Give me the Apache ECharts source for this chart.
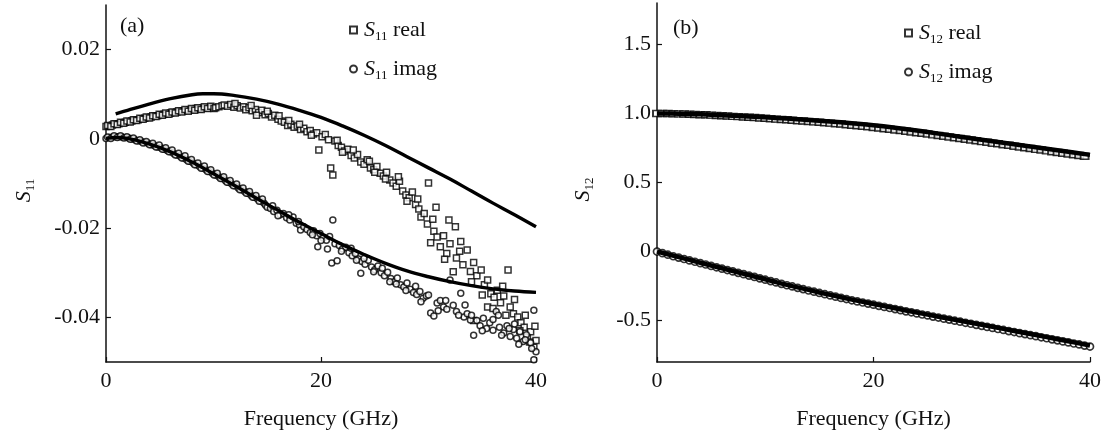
<!DOCTYPE html>
<html>
<head>
<meta charset="utf-8">
<script src="https://cdn.jsdelivr.net/npm/echarts@6/dist/echarts.min.js"></script>
<style>
  html, body { margin: 0; padding: 0; background: #fff; }
  #chart { width: 1104px; height: 437px; }
</style>
</head>
<body>
<div id="chart"></div>
<script>
// (a) S11 measured points, [GHz, value]
const s11Real = [
  [0,0.0028],[0.3,0.0029],[0.6,0.0031],[0.9,0.0033],[1.2,0.0034],[1.5,0.0036],[1.8,0.0037],[2.1,0.0039],
  [2.4,0.0040],[2.7,0.0042],[3.0,0.0043],[3.3,0.0045],[3.6,0.0046],[3.9,0.0048],[4.2,0.0049],[4.5,0.0051],
  [4.8,0.0052],[5.1,0.0054],[5.4,0.0055],[5.7,0.0056],[6.0,0.0058],[6.3,0.0059],[6.6,0.0060],[6.9,0.0062],
  [7.2,0.0063],[7.5,0.0064],[7.8,0.0065],[8.1,0.0066],[8.4,0.0068],[8.7,0.0067],[9.0,0.0069],[9.3,0.0070],
  [9.6,0.0069],[9.9,0.0071],
  [0.15,0.0030],[0.45,0.0028],[0.75,0.0034],[1.05,0.0032],[1.35,0.0037],[1.65,0.0035],[1.95,0.0040],[2.25,0.0038],
  [2.55,0.0043],[2.85,0.0041],[3.15,0.0046],[3.45,0.0044],[3.75,0.0049],[4.05,0.0047],[4.35,0.0052],[4.65,0.0050],
  [4.95,0.0055],[5.25,0.0053],[5.55,0.0058],[5.85,0.0055],[6.15,0.0060],[6.45,0.0058],[6.75,0.0063],[7.05,0.0060],
  [7.35,0.0066],[7.65,0.0062],[7.95,0.0068],[8.25,0.0064],[8.55,0.0070],[8.85,0.0066],[9.15,0.0072],[9.45,0.0068],
  [9.75,0.0073],[10.05,0.0068],
  [10.2,0.0070],[10.5,0.0072],[10.8,0.0074],[11.0,0.0076],[11.3,0.0073],[11.6,0.0077],[11.9,0.0071],[12.2,0.0074],
  [12.5,0.0069],[12.8,0.0072],[13.0,0.0065],[13.3,0.0070],[13.6,0.0063],[13.9,0.0066],[14.2,0.0059],[14.5,0.0064],
  [14.8,0.0054],[15.1,0.0057],[15.4,0.0049],[15.7,0.0053],[16.0,0.0044],[16.3,0.0040],[16.6,0.0037],[16.9,0.0030],
  [17.2,0.0033],[17.5,0.0026],[17.8,0.0029],[18.1,0.0021],[18.4,0.0024],[18.7,0.0016],[19.0,0.0019],[19.3,0.0011],
  [19.6,0.0014],[19.8,-0.0025],[20.1,0.0005],[20.4,0.0010],[20.7,-0.0002],[20.9,-0.0065],[21.1,-0.0081],[21.3,-0.0005],
  [21.6,-0.0015],[21.9,-0.0019],[22.2,-0.0027],[22.5,-0.0023],[22.8,-0.0037],[23.1,-0.0043],[23.4,-0.0035],[23.7,-0.0052],
  [24.0,-0.0057],[24.3,-0.0047],[24.6,-0.0065],[24.9,-0.0069],[25.2,-0.0062],[25.5,-0.0077],[25.8,-0.0083],[26.1,-0.0075],
  [26.4,-0.0092],[26.7,-0.0099],[27.0,-0.0106],[27.3,-0.0095],[27.6,-0.0117],[27.9,-0.0126],[28.2,-0.0132],[28.5,-0.0119],
  [28.8,-0.0147],[29.1,-0.0157],[29.3,-0.0175],[29.6,-0.0167],[29.9,-0.0191],[30.0,-0.0099],[30.2,-0.0233],[30.5,-0.0207],
  [30.7,-0.0153],[30.8,-0.0220],[31.1,-0.0242],[31.4,-0.0217],[31.7,-0.0257],[31.9,-0.0182],[32.0,-0.0235],[32.3,-0.0298],
  [32.5,-0.0197],[32.6,-0.0267],[32.9,-0.0252],[33.2,-0.0282],[33.6,-0.0249],[33.9,-0.0297],[34.2,-0.0407],[34.2,-0.0277],
  [34.5,-0.0307],[34.9,-0.0294],[35.2,-0.0327],[35.5,-0.0316],[35.5,-0.0377],[35.8,-0.0347],[36.1,-0.0355],[36.4,-0.0339],
  [36.7,-0.0367],[37.0,-0.0352],[37.4,-0.0294],[37.6,-0.0377],[37.9,-0.0392],[38.3,-0.0399],[38.6,-0.0412],[38.9,-0.0422],
  [39.2,-0.0444],[39.5,-0.0432],[39.8,-0.0467],[40.0,-0.0452],
  [12.0,0.0079],[13.5,0.0075],[14.0,0.0053],[15.0,0.0062],[16.1,0.0052],[17.0,0.0041],[18.0,0.0033],[19.1,0.0008],
  [21.5,-0.0003],[22.0,-0.0030],[23.0,-0.0025],[24.5,-0.0050],[25.0,-0.0075],[26.0,-0.0090],[27.2,-0.0085],[28.0,-0.0140],
  [29.0,-0.0135],[30.4,-0.0180],[31.5,-0.0270],[33.0,-0.0230],[34.0,-0.0320],[35.0,-0.0350],[36.0,-0.0380],[36.9,-0.0330],
  [37.2,-0.0395],[38.0,-0.0360],[38.5,-0.0430],[39.0,-0.0395],[39.4,-0.0455],[39.9,-0.0420]
];
const s11Imag = [
  [0,0.0001],[0.3,0.0003],[0.6,0.0004],[0.9,0.0005],[1.2,0.0005],[1.5,0.0004],[1.8,0.0003],[2.1,0.0002],
  [2.4,0.0000],[2.7,-0.0002],[3.0,-0.0004],[3.3,-0.0006],[3.6,-0.0008],[3.9,-0.0010],[4.2,-0.0013],[4.5,-0.0015],
  [4.8,-0.0018],[5.1,-0.0020],[5.4,-0.0023],[5.7,-0.0026],[6.0,-0.0029],[6.3,-0.0033],[6.6,-0.0036],[6.9,-0.0039],
  [7.2,-0.0043],[7.5,-0.0047],[7.8,-0.0050],[8.1,-0.0054],[8.4,-0.0058],[8.7,-0.0062],[9.0,-0.0065],[9.3,-0.0069],
  [9.6,-0.0073],[9.9,-0.0077],[10.2,-0.0081],[10.5,-0.0085],[10.8,-0.0089],[11.1,-0.0093],[11.4,-0.0097],[11.7,-0.0101],
  [12.0,-0.0105],[12.3,-0.0110],[12.6,-0.0114],[12.9,-0.0118],[13.2,-0.0122],[13.5,-0.0127],[13.8,-0.0131],[14.1,-0.0135],
  [14.4,-0.0139],[14.7,-0.0144],
  [0.15,0.0004],[0.45,0.0001],[0.75,0.0007],[1.05,0.0003],[1.35,0.0007],[1.65,0.0002],[1.95,0.0005],[2.25,-0.0001],
  [2.55,0.0002],[2.85,-0.0005],[3.15,-0.0002],[3.45,-0.0009],[3.75,-0.0006],[4.05,-0.0013],[4.35,-0.0010],[4.65,-0.0018],
  [4.95,-0.0014],[5.25,-0.0023],[5.55,-0.0020],[5.85,-0.0029],[6.15,-0.0025],[6.45,-0.0036],[6.75,-0.0032],[7.05,-0.0043],
  [7.35,-0.0038],[7.65,-0.0050],[7.95,-0.0046],[8.25,-0.0058],[8.55,-0.0054],[8.85,-0.0066],[9.15,-0.0061],[9.45,-0.0073],
  [9.75,-0.0069],[10.05,-0.0081],[10.35,-0.0077],[10.65,-0.0089],[10.95,-0.0085],[11.25,-0.0097],[11.55,-0.0093],[11.85,-0.0105],
  [12.15,-0.0101],[12.45,-0.0114],[12.75,-0.0110],[13.05,-0.0122],[13.35,-0.0118],[13.65,-0.0131],[13.95,-0.0127],[14.25,-0.0140],
  [14.55,-0.0135],[14.85,-0.0149],
  [15.0,-0.0153],[15.3,-0.0156],[15.6,-0.0163],[15.9,-0.0160],[16.2,-0.0170],[16.5,-0.0167],[16.8,-0.0177],[17.1,-0.0182],
  [17.4,-0.0175],[17.7,-0.0189],[18.0,-0.0193],[18.1,-0.0204],[18.4,-0.0197],[18.7,-0.0203],[19.0,-0.0210],[19.3,-0.0206],
  [19.6,-0.0217],[19.7,-0.0242],[19.9,-0.0212],[20.2,-0.0222],[20.5,-0.0227],[20.6,-0.0247],[20.8,-0.0219],[21.1,-0.0182],
  [21.0,-0.0278],[21.3,-0.0235],[21.5,-0.0273],[21.7,-0.0239],[22.0,-0.0247],[22.3,-0.0243],[22.6,-0.0255],[22.9,-0.0262],
  [23.2,-0.0257],[23.5,-0.0269],[23.7,-0.0301],[23.8,-0.0275],[24.1,-0.0281],[24.4,-0.0272],[24.7,-0.0287],[25.0,-0.0293],
  [25.3,-0.0285],[25.6,-0.0300],[25.9,-0.0307],[26.2,-0.0299],[26.5,-0.0313],[26.8,-0.0320],[27.1,-0.0312],[27.4,-0.0327],
  [27.7,-0.0332],[28.0,-0.0323],[28.3,-0.0337],[28.6,-0.0344],[28.9,-0.0349],[29.2,-0.0342],[29.5,-0.0357],[29.8,-0.0352],
  [30.2,-0.0390],[30.5,-0.0397],[30.8,-0.0368],[31.1,-0.0362],[31.4,-0.0377],[31.7,-0.0382],[32.0,-0.0316],[32.3,-0.0373],
  [32.6,-0.0387],[33.0,-0.0346],[33.3,-0.0399],[33.6,-0.0392],[33.9,-0.0406],[34.2,-0.0440],[34.5,-0.0407],[34.8,-0.0419],
  [35.1,-0.0402],[35.4,-0.0425],[35.7,-0.0412],[36.0,-0.0429],[36.3,-0.0387],[36.6,-0.0422],[37.0,-0.0435],[37.3,-0.0419],
  [37.6,-0.0443],[37.9,-0.0427],[38.2,-0.0447],[38.5,-0.0432],[38.8,-0.0454],[39.1,-0.0439],[39.5,-0.0457],[39.8,-0.0384],
  [39.8,-0.0495],[40.0,-0.0477],
  [15.5,-0.0150],[16.0,-0.0172],[17.0,-0.0170],[17.9,-0.0185],[19.2,-0.0215],[20.0,-0.0228],[21.9,-0.0252],[22.8,-0.0245],
  [23.3,-0.0272],[24.0,-0.0268],[24.9,-0.0298],[25.7,-0.0290],[26.4,-0.0320],[27.0,-0.0325],[27.9,-0.0340],[28.8,-0.0330],
  [29.3,-0.0365],[30.0,-0.0350],[30.9,-0.0385],[31.6,-0.0362],[32.8,-0.0395],[33.4,-0.0372],[34.0,-0.0395],[35.0,-0.0430],
  [36.0,-0.0405],[36.8,-0.0440],[37.5,-0.0425],[38.4,-0.0460],[39.0,-0.0450],[39.6,-0.0470],[38.0,-0.0415],[36.5,-0.0395]
];
// (a) model curves
const s11LineUpper = [
  [0.9,0.0056],[2,0.0064],[4,0.0078],[6,0.0090],[8,0.0099],[9,0.0101],[10,0.0101],[12,0.0097],[14,0.0089],
  [16,0.0078],[18,0.0064],[20,0.0048],[22,0.0029],[24,0.0008],[26,-0.0015],[28,-0.0040],[30,-0.0065],
  [32,-0.0090],[34,-0.0117],[36,-0.0144],[38,-0.0170],[40,-0.0197]
];
const s11LineLower = [
  [0,0.0001],[1,0.0003],[2,0.0001],[4,-0.0011],[6,-0.0029],[8,-0.0052],[10,-0.0078],[12,-0.0105],
  [14,-0.0133],[16,-0.0160],[18,-0.0187],[20,-0.0212],[22,-0.0237],[24,-0.0259],[26,-0.0279],[28,-0.0296],
  [30,-0.0309],[32,-0.0320],[34,-0.0329],[36,-0.0336],[38,-0.0341],[40,-0.0344]
];
// (b) S12 points and curves
const s12Real = [
  [0,1.000],[0.5,1.000],[1.0,0.999],[1.5,0.998],[2.0,0.997],[2.5,0.996],[3.0,0.994],[3.5,0.993],[4.0,0.991],
  [4.5,0.990],[5.0,0.988],[5.5,0.986],[6.0,0.984],[6.5,0.982],[7.0,0.979],[7.5,0.977],[8.0,0.975],[8.5,0.972],
  [9.0,0.970],[9.5,0.967],[10.0,0.965],[10.5,0.962],[11.0,0.959],[11.5,0.957],[12.0,0.954],[12.5,0.951],
  [13.0,0.948],[13.5,0.945],[14.0,0.942],[14.5,0.939],[15.0,0.936],[15.5,0.933],[16.0,0.930],[16.5,0.926],
  [17.0,0.923],[17.5,0.919],[18.0,0.915],[18.5,0.911],[19.0,0.907],[19.5,0.903],[20.0,0.899],[20.5,0.894],
  [21.0,0.890],[21.5,0.885],[22.0,0.881],[22.5,0.876],[23.0,0.871],[23.5,0.866],[24.0,0.861],[24.5,0.856],
  [25.0,0.851],[25.5,0.845],[26.0,0.840],[26.5,0.835],[27.0,0.829],[27.5,0.824],[28.0,0.818],[28.5,0.813],
  [29.0,0.807],[29.5,0.802],[30.0,0.796],[30.5,0.791],[31.0,0.785],[31.5,0.780],[32.0,0.774],[32.5,0.769],
  [33.0,0.763],[33.5,0.757],[34.0,0.752],[34.5,0.746],[35.0,0.740],[35.5,0.735],[36.0,0.729],[36.5,0.723],
  [37.0,0.718],[37.5,0.712],[38.0,0.706],[38.5,0.701],[39.0,0.695],[39.5,0.690]
];
const s12Imag = [
  [0,0.000],[0.5,-0.012],[1.0,-0.023],[1.5,-0.034],[2.0,-0.044],[2.5,-0.054],[3.0,-0.064],[3.5,-0.074],
  [4.0,-0.084],[4.5,-0.094],[5.0,-0.104],[5.5,-0.114],[6.0,-0.124],[6.5,-0.134],[7.0,-0.144],[7.5,-0.154],
  [8.0,-0.164],[8.5,-0.174],[9.0,-0.184],[9.5,-0.194],[10.0,-0.204],[10.5,-0.214],[11.0,-0.224],[11.5,-0.234],
  [12.0,-0.244],[12.5,-0.253],[13.0,-0.263],[13.5,-0.272],[14.0,-0.282],[14.5,-0.291],[15.0,-0.300],[15.5,-0.309],
  [16.0,-0.318],[16.5,-0.327],[17.0,-0.336],[17.5,-0.344],[18.0,-0.353],[18.5,-0.361],[19.0,-0.369],[19.5,-0.377],
  [20.0,-0.385],[20.5,-0.393],[21.0,-0.401],[21.5,-0.409],[22.0,-0.417],[22.5,-0.425],[23.0,-0.433],[23.5,-0.440],
  [24.0,-0.448],[24.5,-0.456],[25.0,-0.463],[25.5,-0.471],[26.0,-0.478],[26.5,-0.486],[27.0,-0.493],[27.5,-0.501],
  [28.0,-0.508],[28.5,-0.516],[29.0,-0.523],[29.5,-0.531],[30.0,-0.538],[30.5,-0.546],[31.0,-0.553],[31.5,-0.561],
  [32.0,-0.568],[32.5,-0.576],[33.0,-0.583],[33.5,-0.591],[34.0,-0.598],[34.5,-0.606],[35.0,-0.613],[35.5,-0.621],
  [36.0,-0.628],[36.5,-0.636],[37.0,-0.643],[37.5,-0.651],[38.0,-0.658],[38.5,-0.666],[39.0,-0.673],[39.5,-0.681],
  [40.0,-0.688]
];
const s12LineReal = [
  [0,1.000],[2,0.998],[4,0.994],[6,0.987],[8,0.980],[10,0.972],[12,0.963],[14,0.953],[16,0.942],[18,0.929],
  [20,0.915],[22,0.897],[24,0.876],[26,0.854],[28,0.832],[30,0.810],[32,0.788],[34,0.766],[36,0.744],
  [38,0.722],[40,0.700]
];
const s12LineImag = [
  [0,0.000],[2,-0.040],[4,-0.081],[6,-0.121],[8,-0.161],[10,-0.201],[12,-0.241],[14,-0.278],[16,-0.314],
  [18,-0.348],[20,-0.380],[22,-0.411],[24,-0.442],[26,-0.472],[28,-0.501],[30,-0.530],[32,-0.560],
  [34,-0.590],[36,-0.620],[38,-0.650],[40,-0.680]
];
const s11Ticks = [-0.04, -0.02, 0, 0.02];
const s12Ticks = [-0.5, 0, 0.5, 1.0, 1.5];

const FONT = '"Liberation Serif", "DejaVu Serif", serif';
const INK = '#111';

const rich = {
  i: { fontFamily: FONT, fontSize: 22, fontStyle: 'italic', color: INK, lineHeight: 26 },
  s: { fontFamily: FONT, fontSize: 13, color: INK, lineHeight: 13, verticalAlign: 'bottom' },
  t: { fontFamily: FONT, fontSize: 22, color: INK, lineHeight: 26 }
};
function subName(n) {
  // "S11 real" -> italic S, subscript 11, rest plain
  const m = n.match(/^S(\d+)\s*(.*)$/);
  return '{i|S}{s|' + m[1] + '}' + (m[2] ? '{t| ' + m[2] + '}' : '');
}

function xAxisCfg(gridIndex) {
  return {
    type: 'value', gridIndex: gridIndex, min: 0, max: 40, interval: 20,
    name: 'Frequency (GHz)', nameLocation: 'middle', nameGap: 46,
    nameTextStyle: { fontFamily: FONT, fontSize: 22, color: INK },
    axisLine: { onZero: false, lineStyle: { color: INK, width: 1.5 } },
    axisTick: { inside: true, length: 5, lineStyle: { color: INK, width: 1.2 } },
    axisLabel: { fontFamily: FONT, fontSize: 22, color: INK, margin: 8, showMaxLabel: true },
    splitLine: { show: false }
  };
}
function yAxisCfg(gridIndex, min, max, ticks, digits, name, gap) {
  return {
    type: 'value', gridIndex: gridIndex, min: min, max: max,
    name: subName(name), nameLocation: 'middle', nameRotate: 90, nameGap: gap,
    nameTextStyle: { rich: rich, padding: [0, 14, 0, 0] },
    axisLine: { show: true, onZero: false, lineStyle: { color: INK, width: 1.5 } },
    axisTick: { show: true, inside: true, length: 5, customValues: ticks, lineStyle: { color: INK, width: 1.2 } },
    axisLabel: {
      fontFamily: FONT, fontSize: 22, color: INK, margin: 6, customValues: ticks,
      formatter: function (v) { return Math.abs(v) < 1e-9 ? '0' : v.toFixed(digits); }
    },
    splitLine: { show: false }
  };
}
function dots(name, data, symbol, size, xi, bw) {
  return {
    name: name, type: 'scatter', xAxisIndex: xi, yAxisIndex: xi, data: data,
    symbol: symbol, symbolSize: size, clip: false,
    itemStyle: { color: '#fff', borderColor: '#000', borderWidth: bw },
    emphasis: { disabled: true }, z: 2
  };
}
function curve(data, width, xi) {
  return {
    type: 'line', xAxisIndex: xi, yAxisIndex: xi, data: data, smooth: 0.4,
    showSymbol: false, lineStyle: { color: '#000', width: width }, z: 3, silent: true
  };
}
function legendCfg(names, left, top) {
  return {
    data: names, orient: 'vertical', left: left, top: top, itemGap: 15,
    itemWidth: 7, itemHeight: 7, padding: 0, selectedMode: false,
    formatter: subName, textStyle: { rich: rich, padding: [0, 0, 0, 2] }
  };
}

const chart = echarts.init(document.getElementById('chart'), null, { renderer: 'canvas' });
chart.setOption({
  backgroundColor: '#fff',
  animation: false,
  title: [
    { text: '(a)', left: 120, top: 15, padding: 0, textStyle: { fontFamily: FONT, fontSize: 22, fontWeight: 'normal', color: INK } },
    { text: '(b)', left: 673, top: 17, padding: 0, textStyle: { fontFamily: FONT, fontSize: 22, fontWeight: 'normal', color: INK } }
  ],
  legend: [
    legendCfg(['S11 real', 'S11 imag'], 349, 19),
    legendCfg(['S12 real', 'S12 imag'], 904, 22)
  ],
  grid: [
    { left: 106, right: 568, top: 5, bottom: 75 },
    { left: 657, right: 13, top: 3, bottom: 75 }
  ],
  xAxis: [xAxisCfg(0), xAxisCfg(1)],
  yAxis: [
    yAxisCfg(0, -0.05, 0.03, s11Ticks, 2, 'S11', 69),
    yAxisCfg(1, -0.8, 1.8, s12Ticks, 1, 'S12', 61)
  ],
  series: [
    dots('S11 real', s11Real, 'rect', 6, 0, 1.5),
    dots('S11 imag', s11Imag, 'circle', 6, 0, 1.5),
    curve(s11LineUpper, 3.4, 0),
    curve(s11LineLower, 3.4, 0),
    dots('S12 real', s12Real, 'rect', [8, 6], 1, 1.7),
    dots('S12 imag', s12Imag, 'circle', 7, 1, 1.7),
    curve(s12LineReal, 4.5, 1),
    curve(s12LineImag, 4.5, 1)
  ]
});
</script>
</body>
</html>
